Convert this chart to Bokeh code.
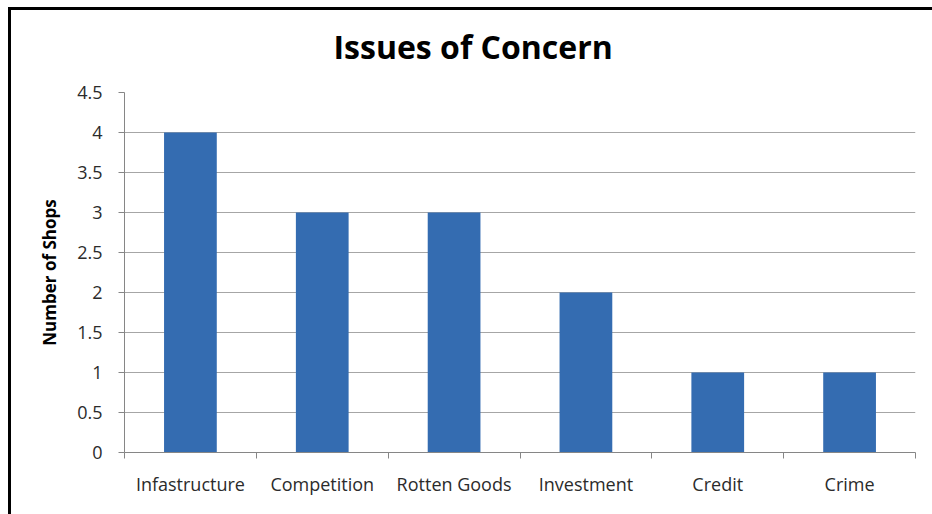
from bokeh.plotting import figure
from bokeh.models import Range1d, FixedTicker, ColumnDataSource
from bokeh.embed import file_html
from bokeh.resources import INLINE

categories = ["Infastructure", "Competition", "Rotten Goods", "Investment", "Credit", "Crime"]
shops = [4, 3, 3, 2, 1, 1]
y_ticks = [0, 0.5, 1, 1.5, 2, 2.5, 3, 3.5, 4, 4.5]

xs = [i + 0.5 for i in range(len(categories))]
src = ColumnDataSource(data=dict(x=xs, top=shops, cat=categories))

p = figure(width=932, height=514, output_backend="svg", toolbar_location=None,
           x_range=Range1d(0, len(categories)), y_range=Range1d(0, 4.5),
           min_border_left=124, min_border_right=17, min_border_top=92, min_border_bottom=62,
           title="Issues of Concern")
p.border_fill_color = None
p.background_fill_color = "white"
p.outline_line_color = None
p.styles = {"box-shadow": "inset 8px 7px 0 0 #fff, inset 11px 10px 0 0 #000",
            "background-color": "white"}

p.title.align = "left"
p.title.offset = 209
p.title.vertical_align = "top"
p.title.text_font = "Open Sans"
p.title.text_font_size = "32px"
p.title.text_font_style = "bold"
p.title.text_color = "#000000"
p.title.standoff = 46

p.vbar(x="x", top="top", bottom=0, width=0.4, source=src,
       fill_color="#346CB1", line_color=None)

p.xgrid.visible = False
p.ygrid.ticker = FixedTicker(ticks=y_ticks)
p.ygrid.grid_line_color = "#A6A6A6"
p.ygrid.grid_line_width = 1

xa = p.xaxis[0]
xa.ticker = FixedTicker(ticks=xs, minor_ticks=list(range(len(categories) + 1)))
xa.major_label_overrides = {x: c for x, c in zip(xs, categories)}
xa.major_tick_out = 0
xa.major_tick_in = 0
xa.minor_tick_out = 6
xa.minor_tick_in = 0
xa.minor_tick_line_color = "#868686"
xa.axis_line_color = "#868686"
xa.major_label_text_font = "Open Sans"
xa.major_label_text_font_size = "18px"
xa.major_label_text_color = "#2B2B2B"
xa.major_label_standoff = 13

ya = p.yaxis[0]
ya.ticker = FixedTicker(ticks=y_ticks)
ya.minor_tick_line_color = None
ya.major_tick_out = 6
ya.major_tick_in = 0
ya.major_tick_line_color = "#868686"
ya.axis_line_color = "#868686"
ya.major_label_text_font = "Open Sans"
ya.major_label_text_font_size = "18px"
ya.major_label_text_color = "#2B2B2B"
ya.major_label_standoff = 16
ya.axis_label = "Number of Shops"
ya.axis_label_text_font = "Open Sans"
ya.axis_label_text_font_size = "17px"
ya.axis_label_text_font_style = "bold"
ya.axis_label_text_color = "#000000"
ya.axis_label_standoff = 13

open("out.html", "w").write(file_html(p, INLINE))
